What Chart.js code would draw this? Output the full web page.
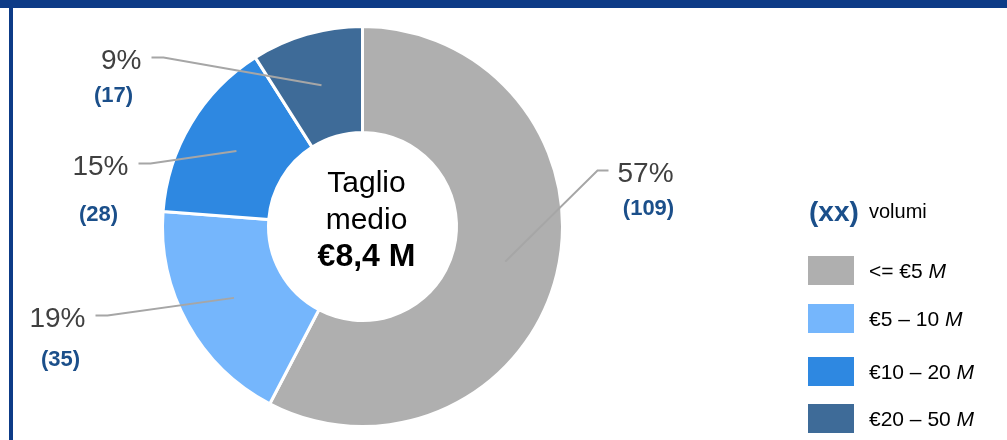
<!DOCTYPE html>
<html>
<head>
<meta charset="utf-8">
<script src="https://cdn.jsdelivr.net/npm/chart.js@4"></script>
<style>
  html, body { margin: 0; padding: 0; background: #fff; }
  #wrap { position: relative; width: 1007px; height: 440px; overflow: hidden; }
  #topBar { position: absolute; left: 0; top: 0; width: 1007px; height: 8px; background: #0d3b87; }
  #leftBar { position: absolute; left: 9px; top: 8px; width: 4px; height: 432px; background: #0d3b87; }
  canvas { position: absolute; left: 0; top: 0; }
</style>
</head>
<body>
<div id="wrap">
  <canvas id="chart" width="1007" height="440"></canvas>
  <div id="topBar"></div>
  <div id="leftBar"></div>
</div>
<script>
// dati
const categories = ['<= €5', '€5 – 10', '€10 – 20', '€20 – 50'];
const unit = 'M';
const volumes = [109, 35, 28, 17];
const pctLabels = ['57%', '19%', '15%', '9%'];
const centerLines = ['Taglio', 'medio', '€8,4 M'];
const legendTitle = '(xx)';
const legendSub = 'volumi';
const colors = ['#afafaf', '#75b6fc', '#2e88e1', '#3e6b98'];

// posizione dei gomiti delle linee guida (multipli del raggio esterno)
const elbows = [[1.175, -0.28], [-1.275, 0.445], [-1.06, -0.315], [-0.995, -0.845]];
// offset etichetta volumi rispetto al bordo del testo %
const volOffsets = [[31, 33], [-25, 39], [-30, 46], [-28, 33]];

const FONT = '"Liberation Sans", Arial, sans-serif';

// Etichette + linee guida
const leaderPlugin = {
    id: 'leaders',
    afterDatasetsDraw(chart) {
        const ctx = chart.ctx;
        const meta = chart.getDatasetMeta(0);
        meta.data.forEach((arc, i) => {
            const p = arc.tooltipPosition();
            const cx = arc.x, cy = arc.y, R = arc.outerRadius;
            const ex = cx + elbows[i][0] * R;
            const ey = cy + elbows[i][1] * R;
            const right = elbows[i][0] > 0;
            const endX = right ? ex + 11 : ex - 12;

            ctx.save();
            ctx.strokeStyle = '#a6a6a6';
            ctx.lineWidth = 2;
            ctx.beginPath();
            ctx.moveTo(p.x, p.y);
            ctx.lineTo(ex, ey);
            ctx.lineTo(endX, ey);
            ctx.stroke();

            const tx = right ? endX + 9 : endX - 10;
            ctx.font = '28px ' + FONT;
            ctx.fillStyle = '#404040';
            ctx.textAlign = right ? 'left' : 'right';
            ctx.textBaseline = 'alphabetic';
            ctx.fillText(pctLabels[i], tx, ey + 11);

            ctx.font = 'bold 22px ' + FONT;
            ctx.fillStyle = '#1b4f8a';
            ctx.textAlign = 'center';
            ctx.fillText('(' + volumes[i] + ')', tx + volOffsets[i][0], ey + 11 + volOffsets[i][1]);
            ctx.restore();
        });

        // testo centrale
        const a = meta.data[0];
        const mx = a.x + 4;
        ctx.save();
        ctx.fillStyle = '#000';
        ctx.textAlign = 'center';
        ctx.font = '30px ' + FONT;
        ctx.fillText(centerLines[0], mx, a.y - 35);
        ctx.fillText(centerLines[1], mx, a.y + 2);
        ctx.font = 'bold 32px ' + FONT;
        ctx.fillText(centerLines[2], mx, a.y + 39);
        ctx.restore();
    }
};

// Legenda a destra
const legendPlugin = {
    id: 'sideLegend',
    afterDraw(chart) {
        const ctx = chart.ctx;
        const boxX = 808, textX = 869;
        const tops = [256, 304, 357, 404];
        ctx.save();
        ctx.textBaseline = 'alphabetic';
        ctx.textAlign = 'left';
        ctx.font = 'bold 28px ' + FONT;
        ctx.fillStyle = '#1b4f8a';
        ctx.fillText(legendTitle, 809, 221);
        ctx.font = '20px ' + FONT;
        ctx.fillStyle = '#000';
        ctx.fillText(legendSub, textX, 218);

        categories.forEach((c, i) => {
            ctx.fillStyle = colors[i];
            ctx.fillRect(boxX, tops[i], 46, 29);
            ctx.fillStyle = '#000';
            ctx.font = '21px ' + FONT;
            const s = c + ' ';
            ctx.fillText(s, textX, tops[i] + 22);
            const w = ctx.measureText(s).width;
            ctx.font = 'italic 21px ' + FONT;
            ctx.fillText(unit, textX + w, tops[i] + 22);
        });
        ctx.restore();
    }
};

new Chart(document.getElementById('chart'), {
    type: 'doughnut',
    data: {
        labels: categories,
        datasets: [{
            data: volumes,
            backgroundColor: colors,
            borderColor: '#ffffff',
            borderWidth: 3
        }]
    },
    options: {
        responsive: false,
        animation: false,
        cutout: '47%',
        layout: { padding: { left: 161, top: 25, right: 443, bottom: 12 } },
        plugins: { legend: { display: false }, tooltip: { enabled: false } }
    },
    plugins: [leaderPlugin, legendPlugin]
});
</script>
</body>
</html>
